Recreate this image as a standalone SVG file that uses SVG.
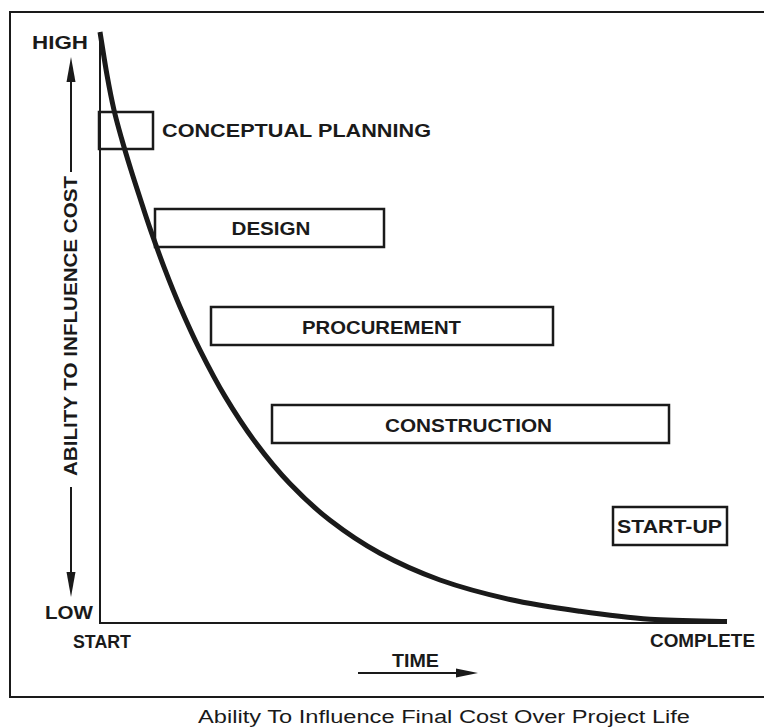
<svg xmlns="http://www.w3.org/2000/svg" width="764" height="727" viewBox="0 0 764 727">
<style>
  .lbl { font-family: "Liberation Sans", Arial, sans-serif; font-weight: bold; font-size: 18px; fill: #1a1a1a; }
  .cap { font-family: "Liberation Sans", Arial, sans-serif; font-size: 18px; fill: #1a1a1a; }
  .box { fill: none; stroke: #1a1a1a; stroke-width: 2.5; }
  .ln { fill: none; stroke: #1a1a1a; stroke-width: 2; }
  .ah { fill: #1a1a1a; }
</style>
<rect width="764" height="727" fill="#ffffff"/>
<g id="frame">
  <polyline class="ln" points="764,12 10,12 10,697 764,697" stroke-width="2.5"/>
</g>
<g id="axes">
  <polyline class="ln" points="100,32 100,623 727,623"/>
</g>
<g id="connectors">
  <line class="ln" x1="71" y1="172" x2="71" y2="78"/>
  <polygon class="ah" points="71,57 66.5,82 75.5,82"/>
  <line class="ln" x1="71" y1="487" x2="71" y2="575"/>
  <polygon class="ah" points="71,597 66.5,572 75.5,572"/>
  <line class="ln" x1="358" y1="673" x2="462" y2="673"/>
  <polygon class="ah" points="478,673 456,668.5 456,677.5"/>
</g>
<g id="curve">
  <path d="M100,32 C101.17,39.17 104.67,62 107,75 C109.33,88 111.5,99.17 114,110 C116.5,120.83 119.17,130 122,140 C124.83,150 128,160.33 131,170 C134,179.67 136.83,188.27 140,198 C143.17,207.73 145.83,216.45 150,228.4 C154.17,240.35 160,256.65 165,269.7 C170,282.75 174.17,293.3 180,306.7 C185.83,320.1 192.5,335.15 200,350.1 C207.5,365.05 215.83,381.12 225,396.4 C234.17,411.68 244.17,427.23 255,441.8 C265.83,456.37 277.5,470.72 290,483.8 C302.5,496.88 315,508.72 330,520.3 C345,531.88 361.67,543.35 380,553.3 C398.33,563.25 418.33,572.3 440,580 C461.67,587.7 486.67,594.28 510,599.5 C533.33,604.72 556.67,608 580,611.3 C603.33,614.6 625.5,617.6 650,619.3 C674.5,621 714.17,621.13 727,621.5" fill="none" stroke="#1a1a1a" stroke-width="5" stroke-linejoin="round"/>
</g>
<g id="node-conceptual">
  <rect class="box" x="99" y="112" width="54" height="37"/>
  <text class="lbl" x="162" y="137" textLength="269" lengthAdjust="spacingAndGlyphs">CONCEPTUAL  PLANNING</text>
</g>
<g id="node-design">
  <rect class="box" x="155" y="209" width="229" height="38"/>
  <text class="lbl" x="271" y="235" text-anchor="middle" textLength="79" lengthAdjust="spacingAndGlyphs">DESIGN</text>
</g>
<g id="node-procurement">
  <rect class="box" x="211" y="307" width="342" height="38"/>
  <text class="lbl" x="381.5" y="334" text-anchor="middle" textLength="159" lengthAdjust="spacingAndGlyphs">PROCUREMENT</text>
</g>
<g id="node-construction">
  <rect class="box" x="272" y="405" width="397" height="38"/>
  <text class="lbl" x="468.5" y="432" text-anchor="middle" textLength="167" lengthAdjust="spacingAndGlyphs">CONSTRUCTION</text>
</g>
<g id="node-startup">
  <rect class="box" x="613" y="507" width="114" height="38" stroke-width="3"/>
  <text class="lbl" x="669.5" y="533" text-anchor="middle" textLength="105" lengthAdjust="spacingAndGlyphs">START-UP</text>
</g>
<g id="labels">
  <text class="lbl" x="32" y="49" textLength="56" lengthAdjust="spacingAndGlyphs">HIGH</text>
  <text class="lbl" x="45" y="619" textLength="48" lengthAdjust="spacingAndGlyphs">LOW</text>
  <text class="lbl" x="73" y="648" textLength="58" lengthAdjust="spacingAndGlyphs">START</text>
  <text class="lbl" x="650" y="647" textLength="105" lengthAdjust="spacingAndGlyphs">COMPLETE</text>
  <text class="lbl" x="392" y="667" textLength="47" lengthAdjust="spacingAndGlyphs">TIME</text>
  <text class="lbl" transform="translate(77,326) rotate(-90)" x="0" y="0" text-anchor="middle" textLength="300" lengthAdjust="spacingAndGlyphs">ABILITY TO INFLUENCE COST</text>
  <text class="cap" x="198" y="723" textLength="492" lengthAdjust="spacingAndGlyphs">Ability To Influence Final Cost Over Project Life</text>
</g>
</svg>
